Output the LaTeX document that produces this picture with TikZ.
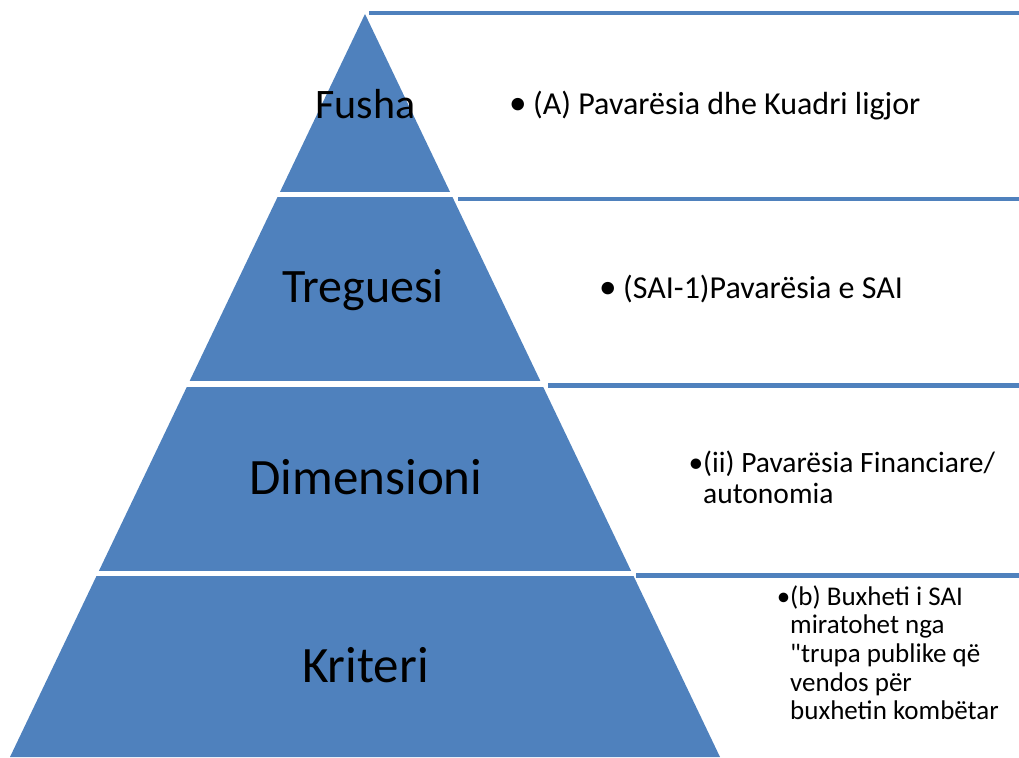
\documentclass[tikz,border=0pt]{standalone}
\usepackage{fontspec}
\setmainfont{Carlito}
\newfontfamily\rawcarlito{Carlito}
\definecolor{pyrblue}{HTML}{4F81BD}
\newcommand{\bulletgap}{\llap{\makebox[24pt][l]{\scalebox{1.1}{•}}}}
\begin{document}
\begin{tikzpicture}[x=1pt,y=-1pt,
  band/.style={fill=pyrblue},
  gapstrip/.style={fill=white},
  rule/.style={draw=pyrblue,line width=4.5pt},
  level/.style={anchor=base,inner sep=0pt},
  item/.style={anchor=base west,inner sep=0pt}]
\useasboundingbox (0,0) rectangle (1019,757);
% pyramid
\fill[band] (365,14) -- (720,757) -- (10,757) -- cycle;
\fill[gapstrip] (0,192) rectangle (1019,197);
\fill[gapstrip] (0,381) rectangle (1019,387);
\fill[gapstrip] (0,571) rectangle (1019,576);
% rules
\coordinate (r1a) at (369,13);  \coordinate (r1b) at (1019,13);
\coordinate (r2a) at (458,199); \coordinate (r2b) at (1019,199);
\coordinate (r3a) at (548,385.5); \coordinate (r3b) at (1019,385.5);
\coordinate (r4a) at (636,575.5); \coordinate (r4b) at (1019,575.5);
\draw[rule] (r1a) -- (r1b);
\draw[rule] (r2a) -- (r2b);
\draw[rule] (r3a) -- (r3b);
\draw[rule] (r4a) -- (r4b);
% level labels
\node[level,font=\fontsize{42}{50}\selectfont] (l1) at (365.5,118) {Fusha};
\node[level,font=\fontsize{48}{58}\selectfont] (l2) at (363,302) {Treguesi};
\node[level,font=\fontsize{51}{61}\selectfont] (l3) at (366,494) {Dimensioni};
\node[level,font=\fontsize{51}{61}\selectfont] (l4) at (365.5,682) {Kriteri};
% items
\node[item,font=\fontsize{32}{38}\selectfont] (t1) at (533,115) {\bulletgap(A) Pavarësia dhe Kuadri ligjor};
\node[item,font=\fontsize{32}{38}\selectfont] (t2) at (623,298) {\bulletgap(SAI-1)Pavarësia e SAI};
\node[item,font=\fontsize{29.5}{31.5}\selectfont] (t3) at (703,472)
  {\vtop{\hbox{\llap{•}(ii) Pavarësia Financiare/}\hbox{autonomia}}};
\node[item,font=\fontsize{27}{28.7}\selectfont] (t4) at (790,605)
  {\vtop{\hbox{\llap{•}(b) Buxheti i SAI}\hbox{miratohet nga}\hbox{{\rawcarlito"}trupa publike që}\hbox{vendos për}\hbox{buxhetin kombëtar}}};
\end{tikzpicture}
\end{document}
